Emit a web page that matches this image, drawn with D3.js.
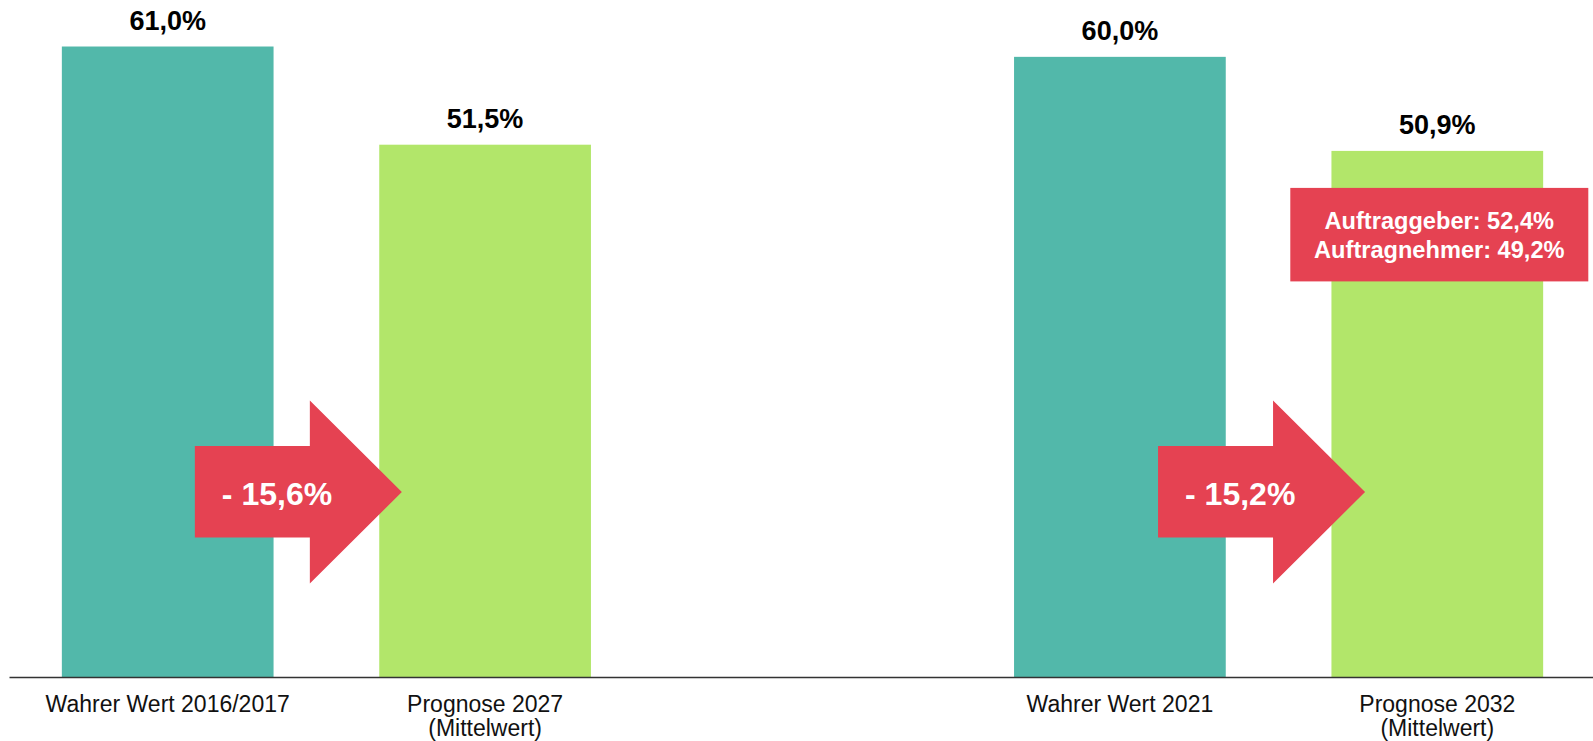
<!DOCTYPE html>
<html>
<head>
<meta charset="utf-8">
<script src="https://cdn.jsdelivr.net/npm/d3@7"></script>
<style>
  body { margin: 0; background: #fff; }
  svg { display: block; font-family: "Liberation Sans", Arial, sans-serif; }
</style>
</head>
<body>
<svg id="chart"></svg>
<script>
// Daten
const barCategories = ["Wahrer Wert 2016/2017", "Prognose 2027", "Wahrer Wert 2021", "Prognose 2032"];
const barValues = [61.0, 51.5, 60.0, 50.9];
const barKinds = ["wahr", "prognose", "wahr", "prognose"];
const categoryLines = [["Wahrer Wert 2016/2017"], ["Prognose 2027", "(Mittelwert)"], ["Wahrer Wert 2021"], ["Prognose 2032", "(Mittelwert)"]];
const changePairs = [[0, 1], [2, 3]];
const changeLabels = ["- 15,6%", "- 15,2%"];
const noteBar = 3;
const noteLines = ["Auftraggeber: 52,4%", "Auftragnehmer: 49,2%"];

const width = 1593;
const height = 741;
const colors = { wahr: "#52b8aa", prognose: "#b2e66a" };
const red = "#e54252";

const svg = d3.select("#chart")
  .attr("width", width)
  .attr("height", height)
  .attr("viewBox", [0, 0, width, height]);

// Lücke zwischen den beiden Gruppen als leere Kategorie
const domain = [barCategories[0], barCategories[1], "", barCategories[2], barCategories[3]];

const x = d3.scaleBand()
  .domain(domain)
  .range([9, 1596])
  .paddingInner(0.333)
  .paddingOuter(0.1665);

const y = d3.scaleLinear()
  .domain([0, 65.5])
  .range([677, 0]);

const de = d3.formatLocale({ decimal: ",", thousands: ".", grouping: [3], currency: ["", " €"] });
const fmt = v => de.format(".1f")(v) + "%";

// Balken
svg.append("g")
  .selectAll("rect")
  .data(barValues)
  .join("rect")
  .attr("x", (d, i) => x(barCategories[i]))
  .attr("y", d => y(d))
  .attr("width", x.bandwidth())
  .attr("height", d => y(0) - y(d))
  .attr("fill", (d, i) => colors[barKinds[i]]);

// Werte über den Balken
svg.append("g")
  .selectAll("text")
  .data(barValues)
  .join("text")
  .attr("x", (d, i) => x(barCategories[i]) + x.bandwidth() / 2)
  .attr("y", d => y(d) - 16.5)
  .attr("text-anchor", "middle")
  .attr("font-size", 27)
  .attr("font-weight", "bold")
  .attr("fill", "#000")
  .text(d => fmt(d));

// X-Achse
const xAxis = svg.append("g")
  .attr("transform", `translate(0,${y(0)})`)
  .call(d3.axisBottom(x).tickSize(0).tickSizeOuter(0));

xAxis.select(".domain").attr("stroke", "#333").attr("stroke-width", 1.5);
xAxis.selectAll(".tick text").remove();
xAxis.selectAll(".tick")
  .filter(d => d !== "")
  .append("text")
  .attr("text-anchor", "middle")
  .attr("font-size", 23)
  .attr("fill", "#111")
  .selectAll("tspan")
  .data(d => categoryLines[barCategories.indexOf(d)])
  .join("tspan")
  .attr("x", 0)
  .attr("y", (d, i) => 34.5 + i * 24)
  .text(d => d);

// Pfeile mit Veränderung
const arrowOffsets = [133, 144];
const arrowLine = d3.line();
changePairs.forEach(([a, b], i) => {
  const left = x(barCategories[a]) + arrowOffsets[i];
  const tip = left + 207;
  const neck = left + 115;
  const cy = 492;
  const pts = [
    [left, cy - 46], [neck, cy - 46], [neck, cy - 91.5], [tip, cy],
    [neck, cy + 91.5], [neck, cy + 45.5], [left, cy + 45.5]
  ];
  svg.append("path")
    .attr("d", arrowLine(pts) + "Z")
    .attr("fill", red);
  svg.append("text")
    .attr("x", left + 27)
    .attr("y", cy + 13)
    .attr("font-size", 32)
    .attr("font-weight", "bold")
    .attr("fill", "#fff")
    .text(changeLabels[i]);
});

// Hinweisbox Auftraggeber / Auftragnehmer
const boxCx = x(barCategories[noteBar]) + x.bandwidth() / 2 + 2;
const boxTop = y(barValues[noteBar]) + 37;
svg.append("rect")
  .attr("x", boxCx - 149)
  .attr("y", boxTop)
  .attr("width", 298)
  .attr("height", 93.5)
  .attr("fill", red);
svg.append("text")
  .attr("text-anchor", "middle")
  .attr("font-size", 23.6)
  .attr("font-weight", "bold")
  .attr("fill", "#fff")
  .selectAll("tspan")
  .data(noteLines)
  .join("tspan")
  .attr("x", boxCx)
  .attr("y", (d, i) => boxTop + 41.5 + i * 29)
  .text(d => d);
</script>
</body>
</html>
